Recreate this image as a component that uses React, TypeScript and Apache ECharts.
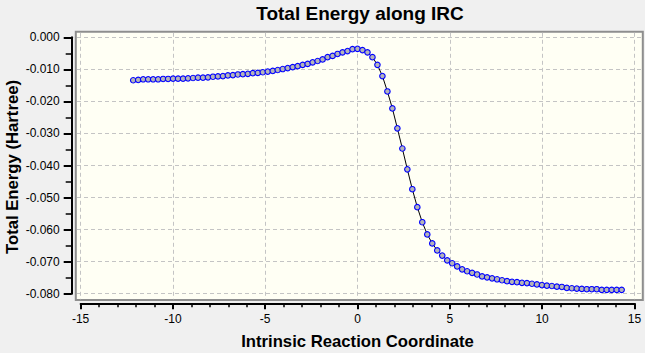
import React, { useEffect, useRef } from "react";
import * as echarts from "echarts";

// Intrinsic reaction coordinate of each IRC point
const ircCoord: number[] = [
  -12.15, -11.88, -11.61, -11.34, -11.07, -10.8, -10.53, -10.26, -9.99, -9.72,
  -9.45, -9.18, -8.91, -8.64, -8.37, -8.1, -7.83, -7.56, -7.29, -7.02,
  -6.75, -6.48, -6.21, -5.94, -5.67, -5.4, -5.13, -4.86, -4.59, -4.32,
  -4.05, -3.78, -3.51, -3.24, -2.97, -2.7, -2.43, -2.16, -1.89, -1.62,
  -1.35, -1.08, -0.81, -0.54, -0.27, 0.0, 0.27, 0.54, 0.81, 1.08,
  1.35, 1.62, 1.89, 2.16, 2.43, 2.7, 2.97, 3.24, 3.51, 3.78,
  4.05, 4.32, 4.59, 4.86, 5.13, 5.4, 5.67, 5.94, 6.21, 6.48,
  6.75, 7.02, 7.29, 7.56, 7.83, 8.1, 8.37, 8.64, 8.91, 9.18,
  9.45, 9.72, 9.99, 10.26, 10.53, 10.8, 11.07, 11.34, 11.61, 11.88,
  12.15, 12.42, 12.69, 12.96, 13.23, 13.5, 13.77, 14.04, 14.31,
];

// Total energy (Hartree, relative) of each IRC point
const totalEnergy: number[] = [
  -0.0134, -0.0133, -0.0131, -0.0131, -0.0131, -0.0131, -0.013, -0.013, -0.0129, -0.0129,
  -0.0129, -0.0128, -0.0127, -0.0126, -0.0126, -0.0125, -0.0123, -0.0122, -0.0121, -0.0119,
  -0.0118, -0.0116, -0.0115, -0.0114, -0.0112, -0.0111, -0.0109, -0.0107, -0.0105, -0.0102,
  -0.0099, -0.0096, -0.0093, -0.009, -0.0086, -0.0083, -0.0078, -0.0074, -0.0069, -0.0062,
  -0.0058, -0.0052, -0.0047, -0.0043, -0.0037, -0.0036, -0.004, -0.0047, -0.0062, -0.0086,
  -0.0121, -0.0169, -0.0222, -0.0284, -0.0347, -0.0412, -0.0474, -0.053, -0.0577, -0.0615,
  -0.0643, -0.0665, -0.0681, -0.0696, -0.0705, -0.0715, -0.0724, -0.073, -0.0735, -0.074,
  -0.0746, -0.0749, -0.0752, -0.0755, -0.0758, -0.0761, -0.0763, -0.0764, -0.0766, -0.0767,
  -0.0769, -0.0771, -0.0773, -0.0775, -0.0776, -0.0778, -0.0779, -0.0782, -0.0783, -0.0784,
  -0.0785, -0.0786, -0.0786, -0.0786, -0.0788, -0.0788, -0.0788, -0.0788, -0.0788,
];

const xTicks = { min: -15, max: 15, interval: 5 };
const yTicks = { min: -0.08, max: 0, interval: 0.01 };

const FONT = "'Liberation Sans', Arial, sans-serif";

export default function App() {
  const ref = useRef<HTMLDivElement>(null);

  useEffect(() => {
    if (!ref.current) return;
    const chart = echarts.init(ref.current, undefined, { renderer: "svg" });
    const points = ircCoord.map((x, i) => [x, totalEnergy[i]]);

    const hiddenAxis = (gridIndex: number, min: number, max: number) => ({
      gridIndex,
      type: "value" as const,
      min,
      max,
      show: false,
      splitLine: { show: false },
    });

    const dashed = { color: "#c4c4c4", width: 1, type: [4, 3] as number[] };

    chart.setOption({
      animation: false,
      backgroundColor: "#f0f0f0",
      grid: [
        // plot box
        {
          left: 75.8,
          top: 31.8,
          width: 567,
          height: 268.3,
          show: true,
          backgroundColor: "#fffff4",
          borderColor: "#8e8e8e",
          borderWidth: 2,
          z: 0,
        },
        // x axis grid
        { left: 80.6, top: 32.8, width: 553.8, height: 266.5, show: false },
        // y axis grid
        { left: 77, top: 37.3, width: 565, height: 256.4, show: false },
        // data grid
        { left: 80.6, top: 37.3, width: 553.8, height: 256.4, show: false },
      ],
      xAxis: [
        hiddenAxis(0, 0, 1),
        {
          gridIndex: 1,
          type: "value",
          position: "bottom",
          offset: 4,
          min: xTicks.min,
          max: xTicks.max,
          interval: xTicks.interval,
          z: 2,
          axisLine: { show: true, onZero: false, lineStyle: { color: "#000", width: 2 } },
          axisTick: { show: true, length: 6, lineStyle: { color: "#000", width: 2 } },
          minorTick: { show: true, splitNumber: 5, length: 4, lineStyle: { color: "#000", width: 1.5 } },
          axisLabel: {
            show: true,
            margin: 10,
            color: "#000",
            fontSize: 12,
            fontFamily: FONT,
            formatter: (v: number) => String(Math.round(v)),
          },
          splitLine: { show: true, lineStyle: dashed },
        },
        hiddenAxis(2, 0, 1),
        hiddenAxis(3, xTicks.min, xTicks.max),
      ],
      yAxis: [
        hiddenAxis(0, 0, 1),
        hiddenAxis(1, 0, 1),
        {
          gridIndex: 2,
          type: "value",
          position: "left",
          offset: 5.3,
          min: yTicks.min,
          max: yTicks.max,
          interval: yTicks.interval,
          z: 2,
          axisLine: { show: true, onZero: false, lineStyle: { color: "#000", width: 2 } },
          axisTick: { show: true, length: 8, lineStyle: { color: "#000", width: 2 } },
          minorTick: { show: true, splitNumber: 2, length: 6, lineStyle: { color: "#000", width: 1.5 } },
          axisLabel: {
            show: true,
            margin: 12,
            color: "#000",
            fontSize: 12,
            fontFamily: FONT,
            formatter: (v: number) => (Math.abs(v) < 1e-9 ? "0.000" : v.toFixed(3)),
          },
          splitLine: { show: true, lineStyle: dashed },
        },
        hiddenAxis(3, yTicks.min, yTicks.max),
      ],
      series: [
        {
          type: "line",
          xAxisIndex: 3,
          yAxisIndex: 3,
          data: points,
          z: 5,
          showSymbol: true,
          symbol: "circle",
          symbolSize: 5.5,
          lineStyle: { color: "#000", width: 1 },
          itemStyle: { color: "#b4b4b8", borderColor: "#0000ff", borderWidth: 1.1 },
          emphasis: { disabled: true },
        },
      ],
      graphic: [
        {
          type: "text",
          x: 360,
          y: 13.5,
          style: {
            text: "Total Energy along IRC",
            fill: "#000",
            font: `bold 19px ${FONT}`,
            textAlign: "center",
            textVerticalAlign: "middle",
          },
        },
        {
          type: "text",
          x: 357.5,
          y: 341,
          style: {
            text: "Intrinsic Reaction Coordinate",
            fill: "#000",
            font: `bold 16.7px ${FONT}`,
            textAlign: "center",
            textVerticalAlign: "middle",
          },
        },
        {
          type: "text",
          x: 12.5,
          y: 167,
          rotation: Math.PI / 2,
          style: {
            text: "Total Energy (Hartree)",
            fill: "#000",
            font: `bold 16.7px ${FONT}`,
            textAlign: "center",
            textVerticalAlign: "middle",
          },
        },
      ],
    });

    return () => chart.dispose();
  }, []);

  return (
    <div
      style={{
        position: "fixed",
        left: 0,
        top: 0,
        width: 645,
        height: 353,
        background: "#f0f0f0",
      }}
    >
      <div ref={ref} style={{ width: 645, height: 353 }} />
    </div>
  );
}
